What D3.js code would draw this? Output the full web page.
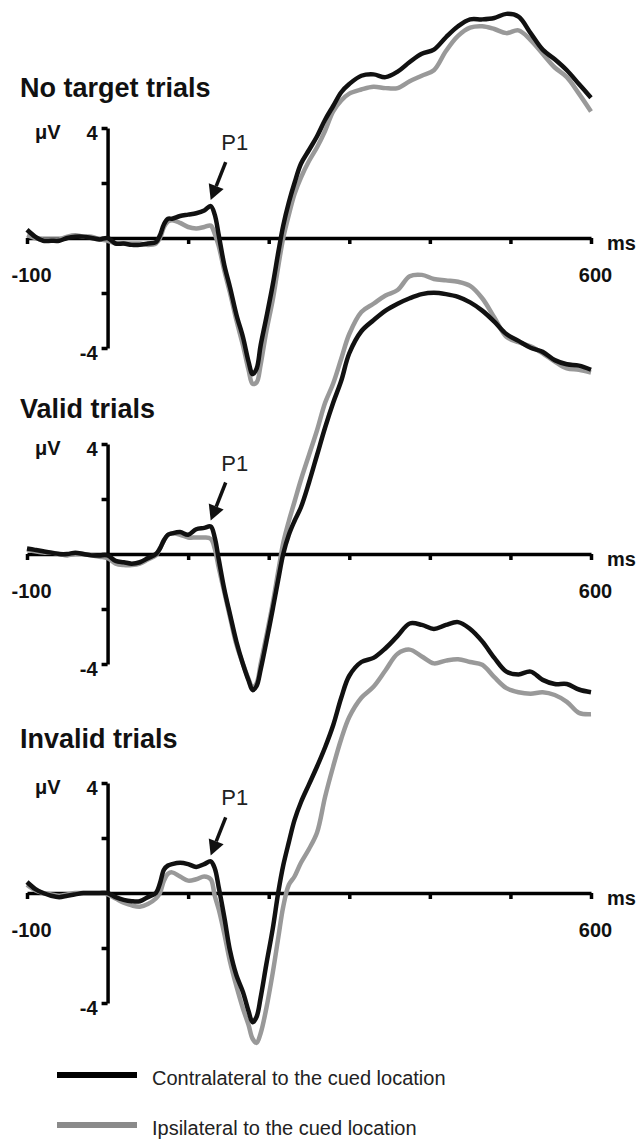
<!DOCTYPE html>
<html>
<head>
<meta charset="utf-8">
<script src="https://cdn.jsdelivr.net/npm/d3@7"></script>
<style>
  body { margin: 0; background: #fff; }
  text { font-family: "Liberation Sans", Arial, sans-serif; }
</style>
</head>
<body>
<svg id="erp"></svg>
<script>
// sample times (ms), shared by every waveform
var times = [
  -100, -90, -80, -70, -60, -50, -40, -30, -20, -10,
  0, 10, 20, 30, 40, 50, 60, 65, 70, 75,
  80, 90, 100, 110, 120, 128, 133, 138, 145, 152,
  160, 168, 175, 180, 185, 190, 197, 205, 212, 218,
  225, 232, 240, 250, 260, 270, 280, 290, 300, 315,
  330, 345, 360, 375, 390, 405, 420, 435, 450, 465,
  480, 495, 510, 525, 540, 555, 570, 585, 600
];

// amplitudes in microvolts
var noTargetContra = [
  0.3, 0.05, -0.1, -0.1, -0.1, 0.0, 0.05, 0.05, 0.0, -0.05,
  0.0, -0.2, -0.2, -0.25, -0.25, -0.2, -0.15, 0.1, 0.5, 0.7,
  0.7, 0.8, 0.85, 0.9, 1.0, 1.16, 0.85, 0.1, -1.0, -1.8,
  -2.8, -3.6, -4.5, -4.95, -4.75, -3.9, -2.9, -1.7, -0.5, 0.45,
  1.3, 2.0, 2.7, 3.2, 3.7, 4.3, 4.8, 5.3, 5.6, 5.9,
  5.95, 5.85, 6.05, 6.4, 6.7, 6.85, 7.3, 7.7, 7.95, 7.95,
  8.0, 8.15, 8.05, 7.45, 6.85, 6.5, 6.1, 5.6, 5.1
];
var noTargetIpsi = [
  0.1, 0.0, -0.05, -0.05, -0.05, 0.05, 0.1, 0.05, 0.05, -0.05,
  -0.1, -0.2, -0.2, -0.2, -0.2, -0.25, -0.2, 0.0, 0.4, 0.6,
  0.65, 0.55, 0.4, 0.35, 0.4, 0.45, 0.15, -0.3, -1.2, -2.0,
  -3.0, -3.9, -4.8, -5.3, -5.25, -4.6, -3.4, -2.25, -1.0, 0.0,
  0.85, 1.6, 2.2, 2.8, 3.3, 3.9, 4.6, 5.0, 5.25, 5.4,
  5.5, 5.45, 5.45, 5.7, 5.9, 6.1, 6.8, 7.35, 7.65, 7.7,
  7.6, 7.45, 7.55, 7.2, 6.7, 6.2, 5.85, 5.25, 4.6
];
var validContra = [
  0.2, 0.15, 0.1, 0.05, 0.0, 0.0, 0.05, 0.0, -0.05, -0.05,
  -0.05, -0.25, -0.3, -0.35, -0.3, -0.15, 0.0, 0.2, 0.5, 0.7,
  0.75, 0.8, 0.7, 0.9, 0.95, 1.0, 0.6, -0.2, -1.3, -2.2,
  -3.2, -4.0, -4.6, -4.95, -4.8, -4.2, -3.2, -2.0, -0.9, 0.0,
  0.7, 1.2, 1.7, 2.6, 3.6, 4.6, 5.5, 6.3, 7.3, 8.1,
  8.5, 8.85, 9.1, 9.3, 9.45, 9.5, 9.45, 9.35, 9.15, 8.85,
  8.45, 8.0, 7.75, 7.5, 7.35, 7.05, 6.9, 6.85, 6.7
];
var validIpsi = [
  0.15, 0.1, 0.05, 0.05, 0.0, -0.05, 0.0, 0.0, -0.05, -0.1,
  -0.15, -0.35, -0.4, -0.4, -0.35, -0.2, -0.05, 0.2, 0.5, 0.7,
  0.75, 0.7, 0.6, 0.6, 0.6, 0.55, 0.2, -0.5, -1.4, -2.3,
  -3.3, -4.0, -4.55, -4.85, -4.7, -4.0, -3.0, -1.8, -0.6, 0.4,
  1.2, 1.9, 2.7, 3.6, 4.5, 5.5, 6.2, 7.1, 8.0, 8.8,
  9.1, 9.4, 9.6, 10.1, 10.15, 10.0, 9.95, 9.9, 9.75, 9.3,
  8.6, 7.9, 7.7, 7.55, 7.3, 7.0, 6.75, 6.7, 6.6
];
var invalidContra = [
  0.4, 0.15, 0.0, -0.1, -0.15, -0.1, -0.05, 0.0, 0.0, 0.0,
  0.0, -0.15, -0.25, -0.3, -0.3, -0.15, 0.0, 0.35, 0.85, 1.0,
  1.05, 1.1, 1.05, 0.95, 1.05, 1.15, 0.9, 0.2, -0.9, -2.1,
  -3.0, -3.6, -4.3, -4.7, -4.5, -3.8, -2.6, -1.3, 0.05, 1.0,
  1.85, 2.65, 3.3, 3.95, 4.6, 5.3, 6.1, 7.1, 7.9, 8.4,
  8.55, 8.9, 9.35, 9.8, 9.75, 9.6, 9.75, 9.85, 9.6, 9.15,
  8.55, 8.05, 7.95, 8.05, 7.75, 7.6, 7.6, 7.4, 7.3
];
var invalidIpsi = [
  0.3, 0.1, 0.0, -0.05, -0.1, -0.05, 0.0, 0.0, 0.0, 0.0,
  -0.05, -0.2, -0.35, -0.45, -0.5, -0.4, -0.2, 0.0, 0.45, 0.7,
  0.75, 0.6, 0.45, 0.5, 0.6, 0.5, -0.1, -0.6, -1.5, -2.5,
  -3.4, -4.2, -4.8, -5.3, -5.45, -5.1, -4.2, -2.9, -1.6, -0.5,
  0.3, 0.6, 1.1, 1.6, 2.2, 3.5, 4.6, 5.6, 6.4, 7.1,
  7.5, 8.1, 8.7, 8.85, 8.6, 8.35, 8.45, 8.5, 8.4, 8.3,
  7.85, 7.45, 7.3, 7.25, 7.3, 7.2, 6.95, 6.55, 6.5
];

var xTicks = [-100, 100, 200, 300, 400, 500, 600];
var xTickLabels = [-100, 600];
var yTicks = [-4, -2, 0, 2, 4];
var yTickLabels = [-4, 4];
var panelTitles = ["No target trials", "Valid trials", "Invalid trials"];
var legendLabels = ["Contralateral to the cued location", "Ipsilateral to the cued location"];

var colors = { contra: "#111", ipsi: "#999" };

var svg = d3.select("#erp")
  .attr("width", 638)
  .attr("height", 1142);

var xScale = d3.scaleLinear()
  .domain([-100, 600])
  .range([27, 591]);

function drawPanel(title, contra, ipsi, zeroY, titleY) {
  var yScale = d3.scaleLinear()
    .domain([-4, 4])
    .range([zeroY + 110, zeroY - 110]);

  var g = svg.append("g");

  g.append("text")
    .attr("x", 20)
    .attr("y", titleY)
    .style("font-weight", "bold")
    .style("font-size", "27px")
    .style("fill", "#111")
    .text(title);

  // x axis
  var xAxis = d3.axisBottom(xScale)
    .tickValues(xTicks)
    .tickSize(6)
    .tickSizeOuter(0)
    .tickPadding(24)
    .tickFormat(function(d) { return xTickLabels.indexOf(d) >= 0 ? d : ""; });

  var gx = g.append("g")
    .attr("transform", "translate(0," + zeroY + ")")
    .call(xAxis);

  // y axis
  var yAxis = d3.axisLeft(yScale)
    .tickValues(yTicks)
    .tickSize(6)
    .tickSizeOuter(0)
    .tickPadding(4)
    .tickFormat(function(d) { return yTickLabels.indexOf(d) >= 0 ? d : ""; });

  var gy = g.append("g")
    .attr("transform", "translate(" + xScale(0) + ",0)")
    .call(yAxis);

  [gx, gy].forEach(function(a) {
    a.select(".domain").attr("stroke-width", 3.5).attr("stroke", "#000");
    a.selectAll(".tick line").attr("stroke-width", 3.5).attr("stroke", "#000");
    a.selectAll(".tick text")
      .style("font-family", '"Liberation Sans", Arial, sans-serif')
      .style("font-weight", "bold")
      .style("font-size", "20px")
      .style("fill", "#111");
  });
  gx.selectAll(".tick text").attr("dx", "0.2em");
  gy.selectAll(".tick text").attr("dy", "0.55em");

  g.append("text")
    .attr("x", 607)
    .attr("y", zeroY + 12)
    .style("font-weight", "bold")
    .style("font-size", "20px")
    .style("fill", "#111")
    .text("ms");

  g.append("text")
    .attr("x", 35)
    .attr("y", zeroY - 99)
    .style("font-weight", "bold")
    .style("font-size", "20px")
    .style("fill", "#111")
    .text("μV");

  var line = d3.line()
    .x(function(d, i) { return xScale(times[i]); })
    .y(function(d) { return yScale(d); })
    .curve(d3.curveCatmullRom.alpha(0.5));

  g.append("path")
    .datum(ipsi)
    .attr("fill", "none")
    .attr("stroke", colors.ipsi)
    .attr("stroke-width", 4.5)
    .attr("stroke-linejoin", "round")
    .attr("d", line);

  g.append("path")
    .datum(contra)
    .attr("fill", "none")
    .attr("stroke", colors.contra)
    .attr("stroke-width", 4.5)
    .attr("stroke-linejoin", "round")
    .attr("d", line);

  // P1 arrow pointing at the contralateral peak
  var k = times.indexOf(128);
  var tipX = xScale(128);
  var tipY = yScale(contra[k]) - 6;
  var startX = tipX + 15, startY = tipY - 38;
  var len = Math.hypot(tipX - startX, tipY - startY);
  var ux = (tipX - startX) / len, uy = (tipY - startY) / len;
  var bx = tipX - 15 * ux, by = tipY - 15 * uy;

  g.append("line")
    .attr("x1", startX).attr("y1", startY)
    .attr("x2", bx).attr("y2", by)
    .attr("stroke", "#111")
    .attr("stroke-width", 3.5);

  g.append("polygon")
    .attr("points", [
      [tipX, tipY],
      [bx + 8 * uy, by - 8 * ux],
      [bx - 8 * uy, by + 8 * ux]
    ].join(" "))
    .attr("fill", "#111");

  g.append("text")
    .attr("x", tipX + 24)
    .attr("y", tipY - 50)
    .attr("text-anchor", "middle")
    .style("font-size", "22px")
    .style("fill", "#222")
    .text("P1");
}

drawPanel(panelTitles[0], noTargetContra, noTargetIpsi, 238, 97);
drawPanel(panelTitles[1], validContra, validIpsi, 554, 418);
drawPanel(panelTitles[2], invalidContra, invalidIpsi, 893, 748);

// legend
var legend = svg.append("g");
[colors.contra, colors.ipsi].forEach(function(c, i) {
  var ly = 1075 + i * 50;
  legend.append("line")
    .attr("x1", 57).attr("x2", 137)
    .attr("y1", ly).attr("y2", ly)
    .attr("stroke", i === 0 ? "#000" : "#8a8a8a")
    .attr("stroke-width", 6);
  legend.append("text")
    .attr("x", 152)
    .attr("y", ly + 10)
    .style("font-size", "20px")
    .style("fill", "#222")
    .text(legendLabels[i]);
});
</script>
</body>
</html>
